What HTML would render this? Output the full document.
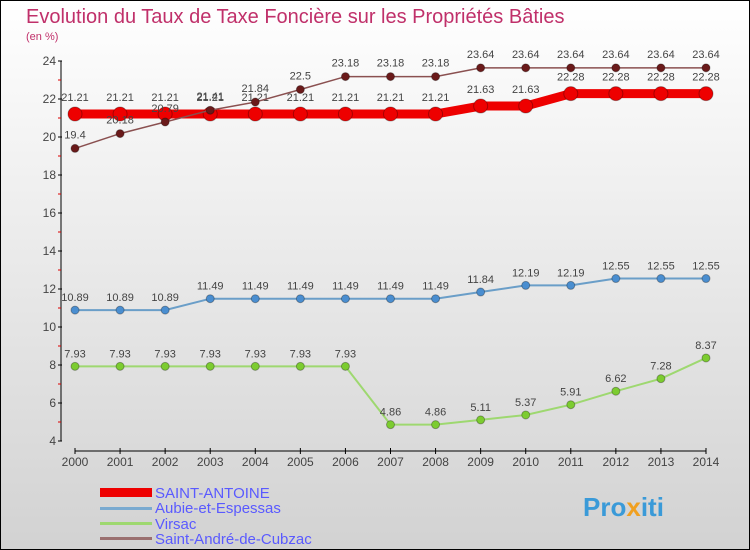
<!DOCTYPE html>
<html><head><meta charset="utf-8"><style>
html,body{margin:0;padding:0}
body{width:750px;height:550px;overflow:hidden;font-family:"Liberation Sans",sans-serif}
#wrap{position:relative;width:748px;height:548px;border:1px solid #000;background:linear-gradient(#ffffff,#d2d2d2)}
</style></head><body>
<div id="wrap">
<svg id="chart" width="748" height="548" viewBox="1 1 748 548" style="position:absolute;left:0;top:0">
<text x="26" y="23" font-size="20" fill="#c0306a">Evolution du Taux de Taxe Foncière sur les Propriétés Bâties</text>
<text x="26" y="40" font-size="11" fill="#c0306a">(en %)</text>
<g id="axes"></g><g id="series"></g>
<g>
<rect x="100" y="488" width="52" height="9" fill="#e00"/>
<text x="155" y="498" font-size="15" fill="#5a5aff">SAINT-ANTOINE</text>
<rect x="100" y="507" width="52" height="3" fill="#7aaad0"/>
<text x="155" y="513" font-size="15" fill="#5a5aff">Aubie-et-Espessas</text>
<rect x="100" y="522" width="52" height="3" fill="#9ed870"/>
<text x="155" y="529" font-size="15" fill="#5a5aff">Virsac</text>
<rect x="100" y="537" width="52" height="3" fill="#9a7070"/>
<text x="155" y="544" font-size="15" fill="#5a5aff">Saint-André-de-Cubzac</text>
</g>
<text x="583" y="516" font-size="26" font-weight="bold" fill="#3a9ad8">Pro<tspan fill="#f0a020">x</tspan>iti</text>
</svg>
</div>
<script>
const years=[2000,2001,2002,2003,2004,2005,2006,2007,2008,2009,2010,2011,2012,2013,2014];
const yTicks=[4,6,8,10,12,14,16,18,20,22,24];
const saintAntoine=[21.21,21.21,21.21,21.21,21.21,21.21,21.21,21.21,21.21,21.63,21.63,22.28,22.28,22.28,22.28];
const aubie=[10.89,10.89,10.89,11.49,11.49,11.49,11.49,11.49,11.49,11.84,12.19,12.19,12.55,12.55,12.55];
const virsac=[7.93,7.93,7.93,7.93,7.93,7.93,7.93,4.86,4.86,5.11,5.37,5.91,6.62,7.28,8.37];
const saintAndre=[19.4,20.18,20.79,21.41,21.84,22.5,23.18,23.18,23.18,23.64,23.64,23.64,23.64,23.64,23.64];
const NS='http://www.w3.org/2000/svg';
const xs=i=>75+i*(706-75)/14;
const ys=v=>441-(v-4)*(441-61)/20;
function mk(t,a,p){const e=document.createElementNS(NS,t);for(const k in a)e.setAttribute(k,a[k]);p.appendChild(e);return e;}
const ax=document.getElementById('axes');
let yl=mk('line',{x1:61,y1:61,x2:61,y2:441,stroke:'#000'},ax);


let xl=mk('line',{x1:75,y1:451,x2:706,y2:451,stroke:'#000'},ax);


yTicks.forEach(v=>{
 mk('line',{x1:58,x2:62,y1:ys(v),y2:ys(v),stroke:'#000'},ax);
 if(v<24) mk('line',{x1:58,x2:61,y1:ys(v+1),y2:ys(v+1),stroke:'#d00'},ax);
 const t=mk('text',{x:56,y:ys(v)+4,'font-size':12,'text-anchor':'end',fill:'#444'},ax);t.textContent=v;
 
 
});
years.forEach((y,i)=>{
 mk('line',{x1:xs(i),x2:xs(i),y1:448,y2:454,stroke:'#000'},ax);
 const t=mk('text',{x:xs(i),y:466,'font-size':12,'text-anchor':'middle',fill:'#444'},ax);t.textContent=y;
 
 
});
const sg=document.getElementById('series');
function series(data,name,color,w,r,dot,dy){
 const g=mk('g',{},sg);
 
 
 const l=mk('polyline',{points:data.map((v,i)=>xs(i)+','+ys(v)).join(' '),fill:'none',stroke:color,'stroke-width':w},g);
 
 
 data.forEach((v,i)=>{
  const c=mk('circle',{cx:xs(i),cy:ys(v),r:r,fill:dot,stroke:'rgba(0,0,0,0.3)'},g);
  
  
  const t=mk('text',{x:xs(i),y:ys(v)+dy,'font-size':11,'text-anchor':'middle',fill:'#444'},g);t.textContent=v;
  
  
 });
}
series(virsac,'virsac-series','#9ed870',2,4,'#7ccc30',-9);
series(aubie,'aubie-series','#6a9ec8',2,4,'#4a8ed0',-9);
series(saintAntoine,'saint-antoine-series','#ee0000',9,7,'#ee0000',-13);
series(saintAndre,'saint-andre-series','#8a5050',1.5,4,'#6a1a1a',-10);
</script>
</body></html>
